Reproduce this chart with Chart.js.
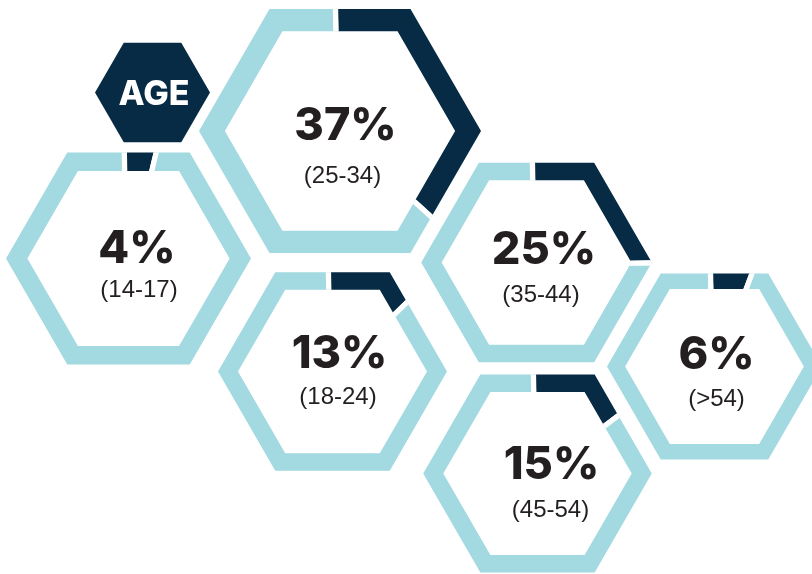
<!DOCTYPE html>
<html>
<head>
<meta charset="utf-8">
<script src="https://cdn.jsdelivr.net/npm/chart.js@4.4.1/dist/chart.umd.min.js"></script>
<style>
  html, body { margin: 0; padding: 0; background: #ffffff; overflow: hidden; }
  #stage { position: relative; width: 812px; height: 574px; overflow: hidden; background: #ffffff; }
  #stage canvas { position: absolute; }
</style>
</head>
<body>
<div id="stage"></div>
<script>
// ---------------- data ----------------
const ageGroups = ['(14-17)', '(25-34)', '(18-24)', '(35-44)', '(45-54)', '(>54)'];
const sharePct  = [4, 37, 13, 25, 15, 6];
const titleText = 'AGE';

// ---------------- layout (page px) ----------------
// hexagon centre, circumradius, ring thickness, number/label anchors relative to centre
const hexLayout = [
  { cx: 128.5, cy: 258, R: 122.5, t: 18.5, nx: 8.5,  ny: 4,   lx: 10.5, ly: 38 },
  { cx: 339.5, cy: 131, R: 141,   t: 22.4, nx: 5.5,  ny: 9,   lx: 2.5,  ly: 52 },
  { cx: 332.5, cy: 371, R: 114.5, t: 17.3, nx: 7,    ny: -4,  lx: 5.5,  ly: 32 },
  { cx: 536.5, cy: 262, R: 115.3, t: 17.7, nx: 7.5,  ny: 1.5, lx: 4.5,  ly: 39.5 },
  { cx: 537,   cy: 473, R: 114.3, t: 17.4, nx: 14,   ny: 5,   lx: 13,   ly: 43.5 },
  { cx: 714,   cy: 366, R: 107.5, t: 15.7, nx: 2,    ny: 2,   lx: 2,    ly: 39 }
];
const titleLayout = { cx: 152, cy: 92, R: 57.5 };

const DARK = '#072a45';
const LIGHT = '#a3d9e0';
const TEXT = '#231f20';

Chart.defaults.devicePixelRatio = 1;

function hexPath(ctx, x, y, r) {
  for (let i = 0; i < 6; i++) {
    const a = Math.PI / 3 * i;
    const px = x + r * Math.cos(a), py = y + r * Math.sin(a);
    if (i === 0) ctx.moveTo(px, py); else ctx.lineTo(px, py);
  }
  ctx.closePath();
}

function makeCanvas(cx, cy, R) {
  const S = Math.ceil(2 * (R + 16));
  const c = document.createElement('canvas');
  c.width = S; c.height = S;
  c.style.width = S + 'px'; c.style.height = S + 'px';
  c.style.left = (cx - S / 2) + 'px';
  c.style.top = (cy - S / 2) + 'px';
  document.getElementById('stage').appendChild(c);
  return c;
}

function hexClipPlugin(R, t) {
  return {
    id: 'hexClip',
    beforeDatasetsDraw(chart) {
      const arc = chart.getDatasetMeta(0).data[0];
      const ctx = chart.ctx;
      ctx.save();
      ctx.beginPath();
      hexPath(ctx, arc.x, arc.y, R);
      if (t) hexPath(ctx, arc.x, arc.y, R - t / Math.cos(Math.PI / 6));
      ctx.clip('evenodd');
    },
    afterDatasetsDraw(chart) { chart.ctx.restore(); }
  };
}

function textPlugin(lines) {
  return {
    id: 'hexText',
    afterDraw(chart) {
      const arc = chart.getDatasetMeta(0).data[0];
      const ctx = chart.ctx;
      ctx.save();
      ctx.textAlign = 'center';
      ctx.textBaseline = 'alphabetic';
      lines.forEach(l => {
        ctx.font = l.font;
        ctx.fillStyle = l.color;
        ctx.fillText(l.text, arc.x + l.dx, arc.y + l.dy);
      });
      ctx.restore();
    }
  };
}

const baseOptions = (R, cut) => ({
  responsive: false,
  maintainAspectRatio: false,
  animation: false,
  events: [],
  radius: R + 12,
  cutout: cut,
  rotation: -1,
  layout: { padding: 0 },
  plugins: { legend: { display: false }, tooltip: { enabled: false } }
});

// title hexagon
(function () {
  const L = titleLayout;
  const c = makeCanvas(L.cx, L.cy, L.R);
  new Chart(c, {
    type: 'doughnut',
    data: { labels: [titleText], datasets: [{ data: [100], backgroundColor: [DARK], borderWidth: 0 }] },
    options: baseOptions(L.R, 0),
    plugins: [
      hexClipPlugin(L.R, 0),
      textPlugin([{ text: titleText, font: '800 34px Inter', color: '#ffffff', dx: 1.5, dy: 12 }])
    ]
  });
})();

// percentage hexagons
sharePct.forEach((p, i) => {
  const L = hexLayout[i];
  const c = makeCanvas(L.cx, L.cy, L.R);
  new Chart(c, {
    type: 'doughnut',
    data: {
      labels: [ageGroups[i], 'other'],
      datasets: [{
        data: [p, 100 - p],
        backgroundColor: [DARK, LIGHT],
        borderColor: '#ffffff',
        borderWidth: [0, 5],
        borderAlign: 'inner',
        hoverOffset: 0
      }]
    },
    options: baseOptions(L.R, '35%'),
    plugins: [
      hexClipPlugin(L.R, L.t),
      textPlugin([
        { text: p + '%', font: '800 45px Inter', color: TEXT, dx: L.nx, dy: L.ny },
        { text: ageGroups[i], font: '24px "Liberation Sans"', color: TEXT, dx: L.lx, dy: L.ly }
      ])
    ]
  });
});
</script>
</body>
</html>
